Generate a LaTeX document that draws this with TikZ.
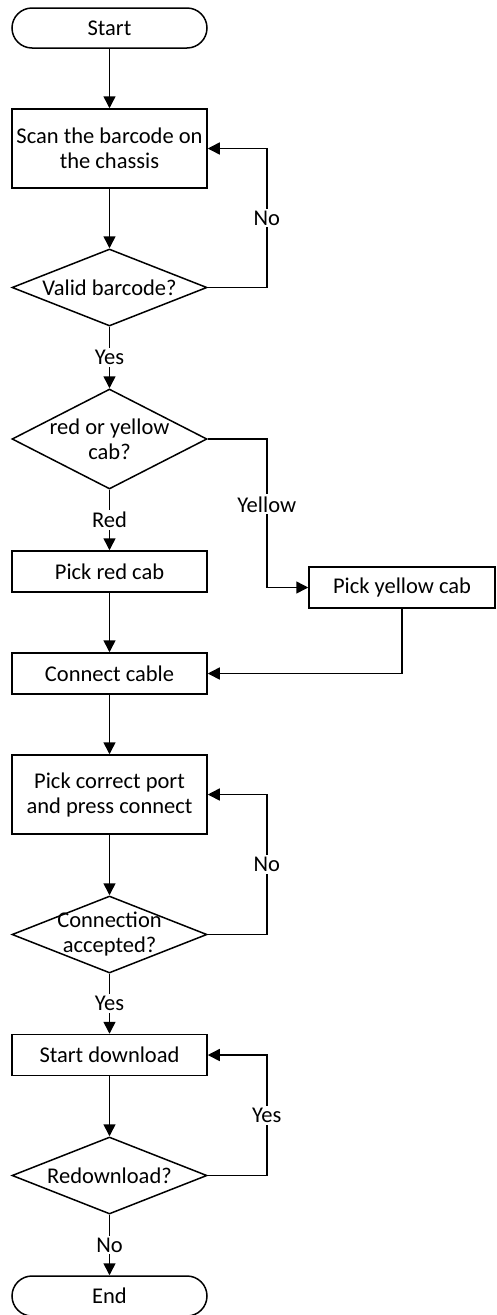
\documentclass[tikz,border=0pt]{standalone}
\usepackage{fontspec}
\setmainfont{Carlito}
\usetikzlibrary{shapes.geometric,arrows.meta}
\begin{document}
\begin{tikzpicture}[x=1pt,y=-1pt,
  fnt/.style={font=\fontsize{22.5}{25}\selectfont},
  base/.style={draw,line width=1.5pt,inner sep=0pt,fnt,align=center},
  proc/.style={base,rectangle,minimum width=195pt},
  term/.style={base,rectangle,rounded corners=20pt,minimum width=195pt,minimum height=40pt},
  dec/.style={draw,line width=1.5pt,diamond,minimum width=195pt,inner sep=0pt},
  txt/.style={inner sep=0pt,fnt,align=center},
  lbl/.style={fill=white,inner sep=2pt,fnt},
  ln/.style={line width=1.5pt},
  arr/.style={ln,-{Triangle[length=12pt,width=12pt]}}]
\useasboundingbox (0,0) rectangle (496,1315);
\node[term] (start) at (109.5,28) {Start};
\node[proc,minimum height=79pt] (scan) at (109.5,148.5) {Scan the barcode on\\the chassis};
\node[dec,minimum height=77pt] (d1) at (109.5,287.5) {};
\node[txt] (t1) at (d1) {Valid barcode?};
\node[dec,minimum height=100pt] (d2) at (109.5,439) {};
\node[txt] (t2) at (d2) {red or yellow\\cab?};
\node[proc,minimum height=41pt] (red) at (109.5,571.5) {Pick red cab};
\node[proc,minimum width=186pt,minimum height=41pt] (yellow) at (402,587.5) {Pick yellow cab};
\node[proc,minimum height=41pt] (connect) at (109.5,673.5) {Connect cable};
\node[proc,minimum height=79pt] (port) at (109.5,794.5) {Pick correct port\\and press connect};
\node[dec,minimum height=77pt] (d3) at (109.5,934.5) {};
\node[txt] (t3) at (d3) {Connection\\accepted?};
\node[proc,minimum height=41pt] (dl) at (109.5,1055) {Start download};
\node[dec,minimum height=77pt] (d4) at (109.5,1175.5) {};
\node[txt] (t4) at (d4) {Redownload?};
\node[term] (end) at (109.5,1296) {End};

\draw[arr] (start) -- (scan);
\draw[arr] (scan) -- (d1);
\draw[arr] (d1.east) -- ++(59,0) |- node[lbl,pos=0.25]{No} (scan.east);
\draw[arr] (d1.south) -- node[lbl]{Yes} (d2.north);
\draw[arr] (d2.south) -- node[lbl]{Red} (red.north);
\draw[arr] (d2.east) -- ++(59,0) |- node[lbl,pos=0.22]{Yellow} (yellow.west);
\draw[arr] (red) -- (connect);
\draw[arr] (yellow.south) |- (connect.east);
\draw[arr] (connect) -- (port);
\draw[arr] (port) -- (d3.north);
\draw[arr] (d3.east) -- ++(59,0) |- node[lbl,pos=0.25]{No} (port.east);
\draw[arr] (d3.south) -- node[lbl]{Yes} (dl.north);
\draw[arr] (dl) -- (d4.north);
\draw[arr] (d4.east) -- ++(59,0) |- node[lbl,pos=0.25]{Yes} (dl.east);
\draw[arr] (d4.south) -- node[lbl]{No} (end.north);
\end{tikzpicture}
\end{document}
